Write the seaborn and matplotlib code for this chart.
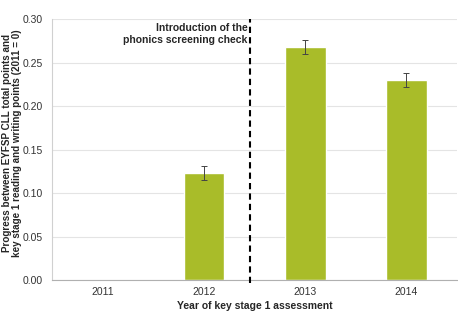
import numpy as np
import pandas as pd
import matplotlib
matplotlib.use("Agg")
import matplotlib.pyplot as plt
import seaborn as sns

# data
years = ["2011", "2012", "2013", "2014"]
progress = [0.0, 0.123, 0.268, 0.230]
err = [0.0, 0.008, 0.008, 0.008]

df = pd.DataFrame({"year": years, "progress": progress})

sns.set_style("white")
plt.rcParams["font.family"] = ["Liberation Sans", "DejaVu Sans"]

fig = plt.figure(figsize=(4.58, 3.19), dpi=100)
ax = fig.add_axes([0.114, 0.122, 0.884, 0.818])

sns.barplot(data=df, x="year", y="progress", color="#A9BC29", saturation=1,
            width=0.4, ax=ax, zorder=2)
ax.errorbar(np.arange(1, len(years)), progress[1:], yerr=err[1:], fmt="none",
            ecolor="#444444", elinewidth=0.7, capsize=2, capthick=0.7, zorder=3)

# policy marker
ax.axvline(1.45, ymin=-0.012, ymax=1, color="black", lw=1.5, ls=(0, (3, 2)),
           clip_on=False, zorder=4)
ax.text(1.43, 0.296, "Introduction of the\nphonics screening check",
        ha="right", va="top", fontsize=7.5, fontweight="bold", linespacing=1.3)

ax.set_xlim(-0.5, 3.5)
ax.set_ylim(0, 0.30)
ax.set_yticks(np.arange(0, 0.301, 0.05))
ax.set_yticklabels([f"{v:.2f}" for v in np.arange(0, 0.301, 0.05)])
ax.set_xticks([0.5, 1.5, 2.5, 3.5], minor=True)
ax.yaxis.grid(True, color="#e4e4e4", lw=0.8)
ax.set_axisbelow(True)
ax.tick_params(axis="both", labelsize=7.5, colors="#333333", length=3)
ax.tick_params(axis="y", color="#c8c8c8", length=3, pad=4)
ax.tick_params(axis="x", length=0, pad=5)
ax.tick_params(axis="x", which="minor", length=3, color="#b0b0b0")

for s in ["top", "right"]:
    ax.spines[s].set_visible(False)
ax.spines["left"].set_color("#d0d0d0")
ax.spines["bottom"].set_color("#b0b0b0")

ax.set_xlabel("Year of key stage 1 assessment", fontsize=7.5, fontweight="bold",
              labelpad=3)
ax.set_ylabel("Progress between EYFSP CLL total points and\n"
              "key stage 1 reading and writing points (2011 = 0)",
              fontsize=7.1, fontweight="bold", linespacing=1.0, va="center")
ax.yaxis.set_label_coords(-0.1, 0.525)

fig.savefig("out.png", dpi=100)
